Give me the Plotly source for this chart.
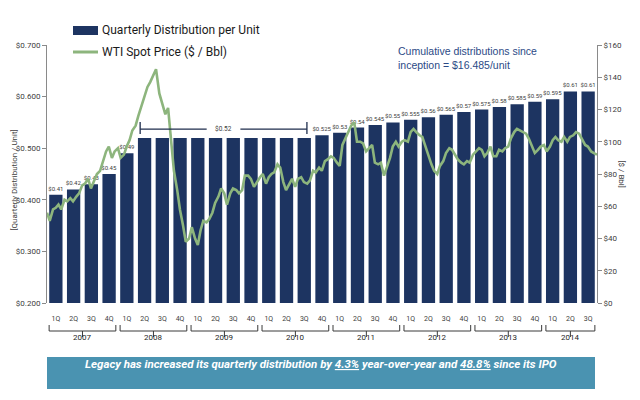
import plotly.graph_objects as go
import pandas as pd

# ---------------- data ----------------
quarter_labels = ["1Q", "2Q", "3Q", "4Q"] * 7 + ["1Q", "2Q", "3Q"]
years = ["2007", "2008", "2009", "2010", "2011", "2012", "2013", "2014"]
quarters_per_year = [4, 4, 4, 4, 4, 4, 4, 3]

distribution = [0.41, 0.42, 0.43, 0.45,
                0.49, 0.52, 0.52, 0.52,
                0.52, 0.52, 0.52, 0.52,
                0.52, 0.52, 0.52, 0.525,
                0.53, 0.54, 0.545, 0.55,
                0.555, 0.56, 0.565, 0.57,
                0.575, 0.58, 0.585, 0.59,
                0.595, 0.61, 0.61]

bar_labels = ["$0.41", "$0.42", "$0.43", "$0.45",
              "$0.49", "", "", "",
              "", "", "", "",
              "", "", "", "$0.525",
              "$0.53", "$0.54", "$0.545", "$0.55",
              "$0.555", "$0.56", "$0.565", "$0.57",
              "$0.575", "$0.58", "$0.585", "$0.59",
              "$0.595", "$0.61", "$0.61"]

flat_label = "$0.52"
flat_value = 0.52
flat_first, flat_last = 5, 14

wti_start, wti_end = "2007-01-01", "2014-10-01"
wti_2007 = [56, 51, 58, 59, 61, 58, 64, 63, 65, 63, 66, 68,
            73, 74, 77, 71, 76, 80, 82, 87, 94, 97, 90, 94]
wti_2008 = [96, 90, 92, 97, 101, 107, 110, 116, 122, 128, 134, 137,
            141, 145, 130, 124, 117, 121, 100, 82, 70, 58, 48, 38]
wti_2009 = [40, 47, 40, 36, 45, 51, 50, 52, 56, 62, 66, 71,
            68, 61, 68, 71, 70, 68, 70, 79, 79, 77, 72, 75]
wti_2010 = [78, 80, 74, 78, 80, 81, 86, 84, 75, 70, 74, 77,
            72, 77, 78, 75, 74, 76, 82, 81, 84, 82, 88, 89]
wti_2011 = [91, 90, 87, 85, 98, 102, 106, 110, 112, 100, 100, 99,
            94, 96, 98, 87, 86, 87, 79, 84, 90, 97, 100, 97]
wti_2012 = [100, 101, 100, 106, 108, 106, 104, 103, 97, 93, 86, 82,
            80, 85, 88, 93, 96, 95, 92, 89, 87, 86, 88, 87]
wti_2013 = [92, 94, 96, 95, 91, 93, 97, 91, 91, 95, 94, 96,
            97, 102, 106, 108, 107, 106, 105, 102, 97, 93, 95, 97]
wti_2014 = [98, 94, 97, 101, 103, 101, 100, 103, 100, 103, 104, 106,
            105, 102, 98, 97, 94, 93, 92]

legend_bar = "Quarterly Distribution per Unit"
legend_line = "WTI Spot Price ($ / Bbl)"
note_text = "Cumulative distributions since<br>inception = $16.485/unit"
banner_text = ("Legacy has increased its quarterly distribution by <u>4.3%</u> "
               "year-over-year and <u>48.8%</u> since its IPO")
left_title = "[Quarterly Distribution / Unit]"
right_title = "[$ / Bbl]"

# ---------------- styling ----------------
NAVY = "#1d3461"
GREEN = "#8db57d"
GRAY = "#404040"
AXIS = "#8a8a8a"
BANNER = "#4a93b1"
NARROW = "Liberation Sans Narrow, Roboto, Liberation Sans, sans-serif"

# page body has an 8px margin, so the figure starts at (8, 8) in the window
OFF = 8
W, H = 640 - OFF, 400 - OFF
PLOT_L, PLOT_R, PLOT_T, PLOT_B = 47, 597, 45, 303   # window pixels
L, T = PLOT_L - OFF, PLOT_T - OFF
R, B = 640 - PLOT_R, 400 - PLOT_B
PW, PH = PLOT_R - PLOT_L, PLOT_B - PLOT_T


def px(x):  # window pixel x -> paper
    return (x - PLOT_L) / PW


def py(y):  # window pixel y -> paper
    return (PLOT_B - y) / PH


wti_price = wti_2007 + wti_2008 + wti_2009 + wti_2010 + wti_2011 + wti_2012 + wti_2013 + wti_2014
wti_dates = pd.date_range(wti_start, wti_end, freq="SMS")
assert len(wti_dates) == len(wti_price)

idx = list(range(len(distribution)))

fig = go.Figure()
fig.add_trace(go.Bar(
    x=idx, y=distribution, width=0.75,
    marker=dict(color=NAVY, line=dict(width=0)),
    text=bar_labels, textposition="outside", cliponaxis=False, constraintext="none",
    textfont=dict(size=6, color=GRAY, family="Roboto"),
    name=legend_bar, showlegend=False, hoverinfo="y",
))
fig.add_trace(go.Scatter(
    x=wti_dates, y=wti_price, xaxis="x2", yaxis="y2", mode="lines",
    line=dict(color=GREEN, width=2.6),
    name=legend_line, showlegend=False,
))

shapes = []
annotations = []

# flat $0.52 bracket
yb, yt0, yt1 = flat_value + 0.017, flat_value + 0.0075, flat_value + 0.031
xa, xb = flat_first - 0.25, flat_last + 0.15
xm = (xa + xb) / 2
gap = 0.95
for x0, x1 in [(xa, xm - gap), (xm + gap, xb)]:
    shapes.append(dict(type="line", xref="x", yref="y", x0=x0, x1=x1, y0=yb, y1=yb,
                       line=dict(color="#1e2d4d", width=1.3)))
for xv in (xa, xb):
    shapes.append(dict(type="line", xref="x", yref="y", x0=xv, x1=xv, y0=yt0, y1=yt1,
                       line=dict(color="#1e2d4d", width=1.3)))
annotations.append(dict(x=xm, y=yb, xref="x", yref="y", text=flat_label, showarrow=False,
                        font=dict(size=6.5, color=GRAY, family="Roboto")))

# year brackets
start = 0
y_h, y_up, y_dn, y_lab = py(331), py(325), py(337), py(344)
for yr, n in zip(years, quarters_per_year):
    f, l = start, start + n - 1
    x0, x1 = f - 0.38, l + 0.38
    xc = (x0 + x1) / 2
    ln = dict(color="#3a3a3a", width=1)
    shapes.append(dict(type="line", xref="x", yref="paper", x0=x0, x1=x1, y0=y_h, y1=y_h, line=ln))
    shapes.append(dict(type="line", xref="x", yref="paper", x0=x0, x1=x0, y0=y_h, y1=y_up, line=ln))
    shapes.append(dict(type="line", xref="x", yref="paper", x0=x1, x1=x1, y0=y_h, y1=y_up, line=ln))
    shapes.append(dict(type="line", xref="x", yref="paper", x0=xc, x1=xc, y0=y_h, y1=y_dn, line=ln))
    annotations.append(dict(x=xc, y=y_lab, xref="x", yref="paper", text=yr, showarrow=False,
                            font=dict(size=8, color="#262626", family="Roboto")))
    start += n

# custom legend
shapes.append(dict(type="rect", xref="paper", yref="paper", x0=px(73), x1=px(98),
                   y0=py(35), y1=py(26), fillcolor=NAVY, line=dict(width=0)))
shapes.append(dict(type="line", xref="paper", yref="paper", x0=px(73), x1=px(98),
                   y0=py(52), y1=py(52), line=dict(color=GREEN, width=3)))
annotations.append(dict(x=px(100), y=py(30.5), xref="paper", yref="paper", text=legend_bar,
                        showarrow=False, xanchor="left", yanchor="middle",
                        font=dict(size=12, color="#1a1a1a", family=NARROW)))
annotations.append(dict(x=px(100), y=py(52), xref="paper", yref="paper", text=legend_line,
                        showarrow=False, xanchor="left", yanchor="middle",
                        font=dict(size=12, color="#1a1a1a", family=NARROW)))

# cumulative note
annotations.append(dict(x=px(396), y=py(58), xref="paper", yref="paper", text=note_text,
                        showarrow=False, xanchor="left", yanchor="middle", align="left",
                        font=dict(size=10.5, color="#2b4a86", family="Liberation Sans")))

# axis titles
annotations.append(dict(x=px(7), y=py(180), xref="paper", yref="paper", text=left_title,
                        showarrow=False, textangle=-90,
                        font=dict(size=8, color=GRAY, family="Roboto")))
annotations.append(dict(x=px(628), y=py(174), xref="paper", yref="paper", text=right_title,
                        showarrow=False, textangle=90,
                        font=dict(size=8, color=GRAY, family="Roboto")))

# banner
shapes.append(dict(type="rect", xref="paper", yref="paper", x0=px(47), x1=px(595),
                   y0=py(389), y1=py(357), fillcolor=BANNER, line=dict(width=0)))
annotations.append(dict(x=px(321), y=py(373), xref="paper", yref="paper",
                        text="<b><i>" + banner_text + "</i></b>",
                        showarrow=False, font=dict(size=11.5, color="white", family=NARROW)))

fig.update_layout(
    width=W, height=H,
    margin=dict(l=L, r=R, t=T, b=B, autoexpand=False),
    paper_bgcolor="white", plot_bgcolor="white",
    showlegend=False, bargap=0.25,
    shapes=shapes, annotations=annotations,
    xaxis=dict(range=[-0.5, len(idx) - 0.5], tickvals=idx, ticktext=quarter_labels,
               ticks="outside", ticklen=9, tickcolor="rgba(0,0,0,0)",
               tickfont=dict(size=7, color=GRAY, family="Roboto"),
               showgrid=False, zeroline=False, showline=False, fixedrange=True),
    xaxis2=dict(type="date", overlaying="x", range=[wti_start, wti_end], visible=False),
    yaxis=dict(range=[0.2, 0.7], dtick=0.1, tickprefix="$", tickformat=".3f",
               showline=True, linecolor=AXIS, linewidth=1, ticks="outside", ticklen=4,
               tickcolor=AXIS, tickfont=dict(size=8, color=GRAY, family="Roboto"),
               showgrid=False, zeroline=False),
    yaxis2=dict(range=[0, 160], dtick=20, tickprefix="$", overlaying="y", side="right",
                showline=True, linecolor=AXIS, linewidth=1, ticks="outside", ticklen=4,
                tickcolor=AXIS, tickfont=dict(size=8, color=GRAY, family="Roboto"),
                showgrid=False, zeroline=False),
)

fig.write_html("out.html")
